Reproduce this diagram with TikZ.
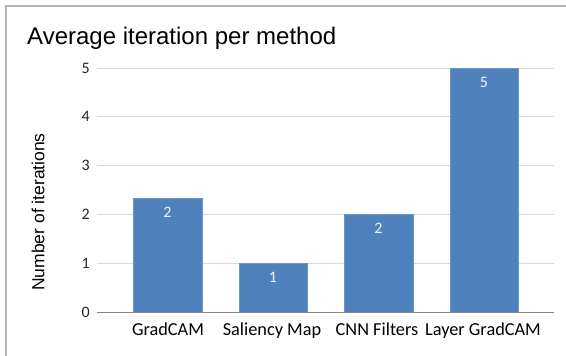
\documentclass[tikz,border=0pt]{standalone}
\usepackage{fontspec}
\setmainfont{Liberation Sans}
\newfontfamily\calib{Carlito}
\definecolor{barblue}{HTML}{4F81BD}
\definecolor{gridgray}{HTML}{D9D9D9}
\definecolor{axisgray}{HTML}{868686}
\definecolor{framegray}{HTML}{B4B4B4}
\begin{document}
\begin{tikzpicture}[x=1pt,y=-1pt,
  titletext/.style={font=\fontsize{24}{27}\selectfont, anchor=base west, inner sep=0pt},
  ticktext/.style={font=\calib\fontsize{16}{18}\selectfont, text=black!85, anchor=east, inner sep=0pt},
  cattext/.style={font=\calib\fontsize{18.3}{21}\selectfont, anchor=base, inner sep=0pt},
  valtext/.style={font=\calib\fontsize{16}{18}\selectfont, text=white!92!barblue, inner sep=0pt},
  axistitle/.style={font=\fontsize{17.5}{20}\selectfont, rotate=90, inner sep=0pt},
  bar/.style={fill=barblue, draw=barblue!85!white, line width=0.6pt},
]
\useasboundingbox (0,0) rectangle (566,356);
% outer chart frame
\draw[framegray, line width=1.6pt] (6,358) -- (6,6) -- (568,6);

\node[titletext] (title) at (27,45) {Average iteration per method};
\node[axistitle] (ytitle) at (38,212) {Number of iterations};

% value axis: origin at the baseline, one unit per iteration
\begin{scope}[shift={(0,312)}, y=48.8pt]
  % gridlines and tick labels
  \foreach \v in {1,...,5} {
    \draw[gridgray, line width=1pt] (97,\v) -- (554,\v);
  }
  \foreach \v in {0,...,5} {
    \node[ticktext] (tick\v) at (90,\v) {\v};
  }
  % bars
  \draw[bar] (133,0) rectangle (202,2.33);
  \draw[bar] (239,0) rectangle (307,1);
  \draw[bar] (344,0) rectangle (413,2);
  \draw[bar] (450,0) rectangle (518,5);
  % baseline
  \draw[axisgray, line width=1pt] (97,0) -- (554,0);
  % value labels
  \node[valtext] (val1) at (167.5,2.33) [yshift=-14pt] {2};
  \node[valtext] (val2) at (273,1) [yshift=-14pt] {1};
  \node[valtext] (val3) at (378.5,2) [yshift=-14pt] {2};
  \node[valtext] (val4) at (484,5) [yshift=-14pt] {5};
\end{scope}

% category labels
\node[cattext] (cat1) at (168,335) {GradCAM};
\node[cattext] (cat2) at (272,335) {Saliency Map};
\node[cattext] (cat3) at (377,335) {CNN Filters};
\node[cattext] (cat4) at (483,335) {Layer GradCAM};
\end{tikzpicture}
\end{document}
